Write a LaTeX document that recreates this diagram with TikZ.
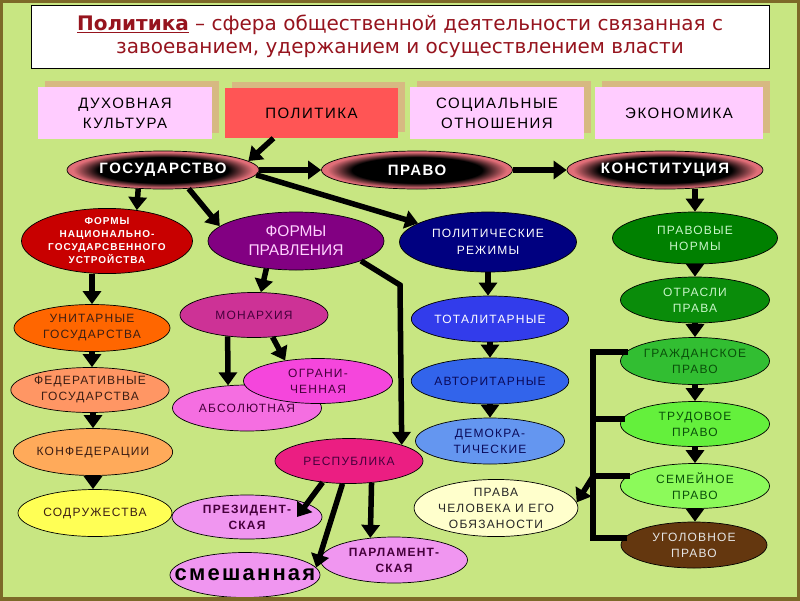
\documentclass[tikz,border=0pt]{standalone}
\usepackage{fontspec}
\setmainfont{DejaVu Sans}
\newfontfamily\lsf[LetterSpace=10]{Liberation Sans}
\newfontfamily\sfn{Liberation Sans}
\usetikzlibrary{arrows.meta,shapes.geometric,shadows}

\definecolor{bg}{RGB}{200,230,130}
\definecolor{frameol}{RGB}{125,105,40}
\definecolor{ttlred}{RGB}{150,20,30}
\definecolor{boxpink}{RGB}{255,204,255}
\definecolor{shtan}{RGB}{215,185,130}
\definecolor{polred}{RGB}{255,85,85}
\definecolor{rimred}{RGB}{225,110,120}
\definecolor{cnat}{RGB}{200,0,0}
\definecolor{cpr}{RGB}{130,0,130}
\definecolor{cprtext}{RGB}{255,210,255}
\definecolor{creg}{RGB}{0,0,128}
\definecolor{cnorm}{RGB}{0,128,0}
\definecolor{clgreen}{RGB}{200,245,200}
\definecolor{ctext}{RGB}{60,30,20}
\definecolor{cunit}{RGB}{255,102,0}
\definecolor{cfed}{RGB}{255,150,100}
\definecolor{ckonf}{RGB}{255,170,90}
\definecolor{csodr}{RGB}{255,255,85}
\definecolor{cmon}{RGB}{205,50,150}
\definecolor{cdpurp}{RGB}{70,0,60}
\definecolor{cabs}{RGB}{245,110,225}
\definecolor{cogr}{RGB}{245,70,220}
\definecolor{cresp}{RGB}{235,30,130}
\definecolor{cviol}{RGB}{240,150,240}
\definecolor{ctotal}{RGB}{50,60,235}
\definecolor{cavt}{RGB}{50,100,235}
\definecolor{cdem}{RGB}{100,150,240}
\definecolor{cnavy}{RGB}{10,10,90}
\definecolor{cprava}{RGB}{255,255,204}
\definecolor{cotr}{RGB}{10,140,10}
\definecolor{cgrazh}{RGB}{50,190,50}
\definecolor{ctrud}{RGB}{100,240,60}
\definecolor{csem}{RGB}{140,250,90}
\definecolor{cugol}{RGB}{100,55,15}
\definecolor{cdgreen}{RGB}{10,80,10}

\pgfdeclareradialshading{darkball}{\pgfpoint{0bp}{0bp}}{color(0bp)=(black); color(17bp)=(black); color(23.5bp)=(rimred); color(25bp)=(rimred); color(50bp)=(rimred)}

\begin{document}
\begin{tikzpicture}[x=1pt,y=-1pt,
    ell/.style={ellipse, draw=black, line width=0.7pt, inner sep=0pt, align=center, text=ctext,
      minimum width=149pt, minimum height=46pt, font=\lsf\fontsize{12}{16}\selectfont},
    darkell/.style={ellipse, draw=black, line width=0.7pt, inner sep=0pt, shade, shading=darkball,
      text=white, minimum width=192pt, minimum height=38pt, font=\lsf\bfseries\fontsize{15}{17}\selectfont},
    topbox/.style={fill=boxpink, minimum width=174pt, minimum height=52pt, inner sep=0pt, align=center,
      drop shadow={shadow xshift=7pt, shadow yshift=6pt, fill=shtan, opacity=1},
      font=\lsf\fontsize{15}{20}\selectfont},
    arr/.style={line width=5.5pt, -{Triangle[length=13pt,width=18pt]}},
    bar/.style={line width=6pt, line cap=rect}]
  \useasboundingbox (0,0) rectangle (800,600);
  \fill[bg] (0,0) rectangle (800,600);

  \node[name=title, draw=black, fill=white, minimum width=738pt, minimum height=63pt, inner sep=0pt,
    align=center, text=ttlred, font=\fontsize{20}{23}\selectfont] at (400,36.5)
    {\underline{\textbf{Политика}} – сфера общественной деятельности связанная с\\завоеванием, удержанием и осуществлением власти};

  \node[name=dux, topbox] at (125,113) {ДУХОВНАЯ\\КУЛЬТУРА};
  \node[name=pol, topbox, fill=polred, minimum width=173pt, minimum height=50pt] at (311.5,113) {ПОЛИТИКА};
  \node[name=soc, topbox] at (497,113) {СОЦИАЛЬНЫЕ\\ОТНОШЕНИЯ};
  \node[name=eco, topbox, minimum width=168pt] at (679,113) {ЭКОНОМИКА};

  \node[name=gos, darkell] at (163,170) {ГОСУДАРСТВО};
  \node[name=pravo, darkell, minimum width=191pt] at (417,170) {ПРАВО};
  \node[name=konst, darkell, minimum width=196pt] at (665,170) {КОНСТИТУЦИЯ};

  \node[name=fnat, ell, fill=cnat, text=white, minimum width=171pt, minimum height=58pt,
    font=\lsf\bfseries\fontsize{10}{13}\selectfont] at (107,241) {ФОРМЫ\\НАЦИОНАЛЬНО-\\ГОСУДАРСВЕННОГО\\УСТРОЙСТВА};
  \node[name=fpr, ell, fill=cpr, text=cprtext, minimum width=176pt, minimum height=58pt,
    font=\sfn\fontsize{15.5}{19}\selectfont] at (296,241) {ФОРМЫ\\ПРАВЛЕНИЯ};
  \node[name=preg, ell, fill=creg, text=white, minimum width=177pt, minimum height=60pt,
    font=\lsf\fontsize{12}{17}\selectfont] at (488,242) {ПОЛИТИЧЕСКИЕ\\РЕЖИМЫ};
  \node[name=pnorm, ell, fill=cnorm, text=clgreen, minimum width=165pt, minimum height=52pt] at (695,238) {ПРАВОВЫЕ\\НОРМЫ};

  \node[name=unit, ell, fill=cunit, minimum width=156pt, minimum height=47pt] at (92,328) {УНИТАРНЫЕ\\ГОСУДАРСТВА};
  \node[name=fed, ell, fill=cfed, minimum width=146pt, minimum height=45pt] at (90,390) {ФЕДЕРАТИВНЫЕ\\ГОСУДАРСТВА};
  \node[name=konf, ell, fill=ckonf, minimum width=157pt, minimum height=47pt] at (93,452) {КОНФЕДЕРАЦИИ};
  \node[name=sodr, ell, fill=csodr, minimum width=154pt, minimum height=47pt] at (95,513) {СОДРУЖЕСТВА};

  \node[name=mon, ell, fill=cmon, text=cdpurp, minimum width=148pt, minimum height=45pt] at (254,315) {МОНАРХИЯ};
  \node[name=abs, ell, fill=cabs, text=cdpurp] at (247,408) {АБСОЛЮТНАЯ};
  \node[name=ogr, ell, fill=cogr, text=cdpurp, minimum height=45pt] at (318,381) {ОГРАНИ-\\ЧЕННАЯ};
  \node[name=resp, ell, fill=cresp, text=cdpurp, minimum width=148pt, minimum height=45pt] at (349,461) {РЕСПУБЛИКА};
  \node[name=prez, ell, fill=cviol, text=cdpurp, minimum width=150pt, minimum height=44pt,
    font=\lsf\bfseries\fontsize{12}{16}\selectfont] at (247,517) {ПРЕЗИДЕНТ-\\СКАЯ};
  \node[name=parl, ell, fill=cviol, text=cdpurp, minimum width=147pt,
    font=\lsf\bfseries\fontsize{12}{16}\selectfont] at (394,560) {ПАРЛАМЕНТ-\\СКАЯ};
  \node[name=smesh, ell, fill=cviol, text=black, minimum width=150pt, minimum height=45pt, inner xsep=-20pt,
    font=\lsf\bfseries\fontsize{22}{22}\selectfont] at (245,575) {смешанная};

  \node[name=total, ell, fill=ctotal, text=white] at (490,319) {ТОТАЛИТАРНЫЕ};
  \node[name=avt, ell, fill=cavt, text=cnavy] at (490,381) {АВТОРИТАРНЫЕ};
  \node[name=dem, ell, fill=cdem, text=cnavy] at (490,441) {ДЕМОКРА-\\ТИЧЕСКИЕ};
  \node[name=prava, ell, fill=cprava, text=black!85, minimum width=158pt, minimum height=47pt] at (496,508) {ПРАВА\\ЧЕЛОВЕКА И ЕГО\\ОБЯЗАНОСТИ};

  \node[name=otr, ell, fill=cotr, text=clgreen] at (695,300) {ОТРАСЛИ\\ПРАВА};
  \node[name=grazh, ell, fill=cgrazh, text=cdgreen, minimum height=47pt] at (695,361) {ГРАЖДАНСКОЕ\\ПРАВО};
  \node[name=trud, ell, fill=ctrud, text=cdgreen, minimum height=45pt] at (695,424) {ТРУДОВОЕ\\ПРАВО};
  \node[name=sem, ell, fill=csem, text=cdgreen, minimum height=45pt] at (695,486) {СЕМЕЙНОЕ\\ПРАВО};
  \node[name=ugol, ell, fill=cugol, text=white!90!black, minimum width=146pt] at (694,545) {УГОЛОВНОЕ\\ПРАВО};

  \draw[arr] ([xshift=-38pt]pol.south) -- (gos.6.5);
  \draw[arr] (gos.east) -- (pravo.west);
  \draw[arr] (pravo.east) -- (konst.west);
  \draw[arr] (gos.-143.5) -- (fnat.46.3);
  \draw[arr] (gos.-36.5) -- (fpr.169.2);
  \draw[arr] (gos.-3) -- (preg.165.7);
  \draw[arr] (konst.south -| pnorm.north) -- (pnorm.north);

  \draw[arr] (fnat.south -| unit.north) -- (unit.north);
  \draw[arr] (unit.south) -- (unit.south |- fed.north);
  \draw[arr] (konf.north |- fed.south) -- (konf.north);
  \draw[arr] (konf.south) -- (konf.south |- sodr.north);

  \draw[arr] (fpr.-137.8) -- (mon.73.9);
  \draw[arr] (mon.-141.6) -- (abs.130.4);
  \draw[arr] (mon.-50.6) -- (ogr.148.3);
  \coordinate (bend) at (400,285);
  \draw[arr] (fpr.-17.1) -- (bend) -- (resp.17.5);
  \draw[arr] (resp.-141.6) -- ([xshift=50pt]prez.center);
  \draw[arr] (resp.-106) -- (smesh.6.6);
  \draw[arr] (resp.-44.9) -- (parl.137.8);

  \draw[arr] (preg.south) -- (preg.south |- total.north);
  \draw[arr] (total.south) -- (avt.north);
  \draw[arr] (avt.south) -- (dem.north);

  \draw[arr] (pnorm.south) -- (otr.north);
  \draw[arr] (otr.south) -- (grazh.north);
  \draw[arr] (grazh.south) -- (trud.north);
  \draw[arr] (trud.south) -- (sem.north);
  \draw[arr] (sem.south) -- (ugol.north -| sem.south);

  \coordinate (brx) at (593,0);
  \draw[bar] (grazh.173.4) -- (grazh.173.4 -| brx) -- (ugol.174.5 -| brx) -- (ugol.174.5);
  \draw[bar] (trud.176) -- (trud.176 -| brx);
  \draw[bar] (sem.172.3) -- (sem.172.3 -| brx);
  \draw[arr] (sem.172.3 -| brx) -- (prava.4.9);

  \draw[frameol, line width=6pt] (0,0) rectangle (800,600);
\end{tikzpicture}
\end{document}
